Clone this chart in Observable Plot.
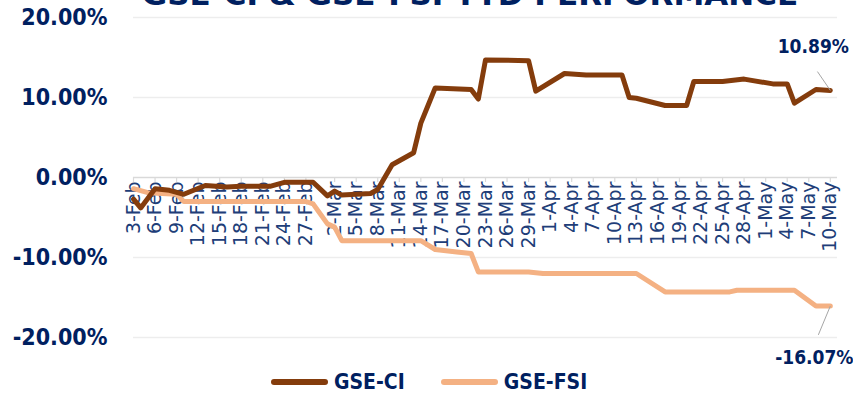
<!DOCTYPE html>
<html><head><meta charset="utf-8">
<script src="https://cdn.jsdelivr.net/npm/d3@7"></script>
<script src="https://cdn.jsdelivr.net/npm/@observablehq/plot@0.6"></script>
<style>
body{margin:0;background:#fff;}
#wrap{position:relative;width:853px;height:400px;overflow:hidden;background:#fff;}
#title{position:absolute;left:0;width:940px;top:-21px;text-align:center;font-family:"DejaVu Sans";font-weight:bold;font-size:31px;line-height:31px;color:#002060;white-space:nowrap;}
#chart{position:absolute;left:0;top:0;}
#legend{position:absolute;left:271px;top:370px;display:flex;align-items:center;font-family:"DejaVu Sans Condensed","DejaVu Sans";font-stretch:condensed;font-weight:bold;font-size:21px;color:#002060;}
#legend .item{display:flex;align-items:center;margin-right:36px;}
#legend .sw{display:inline-block;width:57px;height:6px;border-radius:3px;margin-right:6px;}
</style></head><body>
<div id="wrap"><div id="chart"></div><div id="title">GSE-CI &amp; GSE-FSI YTD PERFORMANCE</div><div id="legend"></div></div>
<script>
const year = "2020";
const tickLabels = ["3-Feb","6-Feb","9-Feb","12-Feb","15-Feb","18-Feb","21-Feb","24-Feb","27-Feb","2-Mar","5-Mar","8-Mar","11-Mar","14-Mar","17-Mar","20-Mar","23-Mar","26-Mar","29-Mar","1-Apr","4-Apr","7-Apr","10-Apr","13-Apr","16-Apr","19-Apr","22-Apr","25-Apr","28-Apr","1-May","4-May","7-May","10-May"];
const axisEnd = "11-May";
const yTicks = [-20, -10, 0, 10, 20];
const seriesNames = ["GSE-CI", "GSE-FSI"];
const seriesColors = ["#843C0C", "#F4B183"];

const ciDates = ["3-Feb","4-Feb","6-Feb","8-Feb","10-Feb","13-Feb","16-Feb","18-Feb","22-Feb","24-Feb","28-Feb","1-Mar","2-Mar","3-Mar","7-Mar","8-Mar","10-Mar","13-Mar","14-Mar","15-Mar","16-Mar","21-Mar","22-Mar","23-Mar","29-Mar","30-Mar","3-Apr","6-Apr","11-Apr","12-Apr","13-Apr","17-Apr","20-Apr","21-Apr","25-Apr","28-Apr","2-May","4-May","5-May","8-May","10-May"];
const ciValues = [-2.7,-3.8,-1.4,-1.6,-2.1,-1.0,-1.2,-1.1,-1.1,-0.6,-0.6,-2.3,-1.7,-2.2,-2.0,-1.5,1.6,3.1,6.8,9.0,11.2,11.0,9.8,14.7,14.6,10.8,13.0,12.8,12.8,10.0,9.9,9.0,9.0,12.0,12.0,12.3,11.7,11.7,9.3,11.0,10.89];

const fsiDates = ["3-Feb","5-Feb","9-Feb","10-Feb","27-Feb","28-Feb","1-Mar","2-Mar","3-Mar","14-Mar","16-Mar","19-Mar","21-Mar","22-Mar","29-Mar","31-Mar","13-Apr","17-Apr","26-Apr","27-Apr","5-May","8-May","10-May"];
const fsiValues = [-1.4,-1.9,-2.1,-3.0,-3.0,-3.3,-5.8,-6.2,-7.9,-7.9,-9.0,-9.3,-9.5,-11.8,-11.8,-12.0,-12.0,-14.3,-14.3,-14.1,-14.1,-16.07,-16.07];

const parse = d3.utcParse("%d-%b-%Y");
const toDate = s => parse(s + "-" + year);
const tickDates = tickLabels.map(toDate);
const ci = ciDates.map((d, i) => ({date: toDate(d), value: ciValues[i], series: seriesNames[0]}));
const fsi = fsiDates.map((d, i) => ({date: toDate(d), value: fsiValues[i], series: seriesNames[1]}));
const lastCI = [ci[ci.length - 1]];
const lastFSI = [fsi[fsi.length - 1]];
const pct = v => v.toFixed(2) + "%";
const boldFont = "'DejaVu Sans Condensed', 'DejaVu Sans'";
const navy = "#002060";

const chart = Plot.plot({
  width: 853, height: 400,
  marginTop: 17, marginBottom: 63, marginLeft: 133, marginRight: 16,
  x: {type: "utc", domain: [tickDates[0], toDate(axisEnd)], axis: null},
  y: {domain: [yTicks[0], yTicks[yTicks.length - 1]], axis: null},
  style: {background: "transparent", overflow: "visible"},
  marks: [
    Plot.ruleY(yTicks.filter(v => v !== 0), {y: d => d, stroke: "#EDEDED", strokeWidth: 1.5}),
    Plot.ruleY([0], {y: d => d, stroke: "#D9D9D9", strokeWidth: 1.5}),
    Plot.ruleX(tickDates, {x: d => d, y1: 0, y2: 0, insetBottom: -5, stroke: "#D9D9D9", strokeWidth: 1.2}),
    Plot.text(tickDates, {x: d => d, y: 0, text: (d, i) => tickLabels[i], rotate: -90, textAnchor: "end", dy: 4, fontSize: 19, fontFamily: "DejaVu Sans", fill: "#203D78"}),
    Plot.text(yTicks, {y: d => d, frameAnchor: "left", textAnchor: "end", dx: -26, text: pct, fontSize: 23, fontWeight: "bold", fontFamily: boldFont, fill: navy}),
    Plot.line(fsi, {x: "date", y: "value", stroke: seriesColors[1], strokeWidth: 5, strokeLinejoin: "round", strokeLinecap: "round"}),
    Plot.line(ci, {x: "date", y: "value", stroke: seriesColors[0], strokeWidth: 5, strokeLinejoin: "round", strokeLinecap: "round"}),
    Plot.link(lastCI, {x1: "date", y1: "value", x2: d => d3.utcHour.offset(d.date, -43), y2: d => d.value + 2.35, stroke: "#A6A6A6", strokeWidth: 1}),
    Plot.link(lastFSI, {x1: "date", y1: "value", x2: d => d3.utcHour.offset(d.date, -40), y2: d => d.value - 3.6, stroke: "#A6A6A6", strokeWidth: 1}),
    Plot.text(lastCI, {x: "date", y: "value", text: d => pct(d.value), dx: -17, dy: -43, fontSize: 19, fontWeight: "bold", fontFamily: boldFont, fill: navy}),
    Plot.text(lastFSI, {x: "date", y: "value", text: d => pct(d.value), dx: -16, dy: 52, fontSize: 19, fontWeight: "bold", fontFamily: boldFont, fill: navy})
  ]
});
document.getElementById("chart").appendChild(chart);

const legend = document.getElementById("legend");
seriesNames.forEach((name, i) => {
  const item = document.createElement("div");
  item.className = "item";
  const sw = document.createElement("span");
  sw.className = "sw";
  sw.style.background = seriesColors[i];
  const t = document.createElement("span");
  t.textContent = name;
  item.appendChild(sw); item.appendChild(t);
  legend.appendChild(item);
});
</script>
</body></html>
